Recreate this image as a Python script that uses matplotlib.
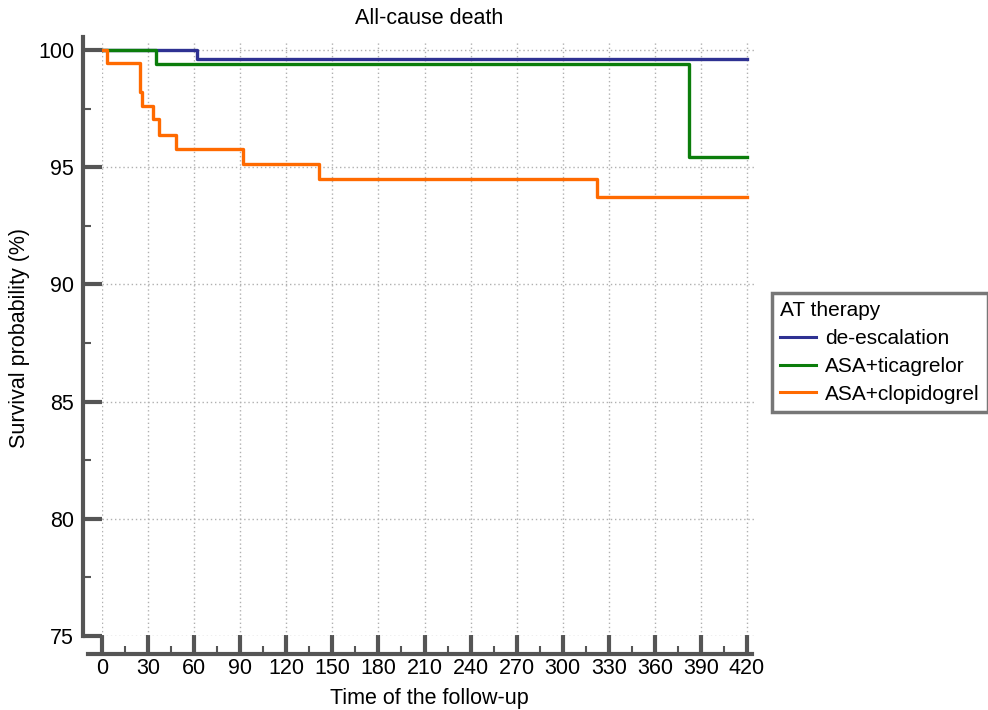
import matplotlib
matplotlib.use("Agg")
import matplotlib.pyplot as plt
from matplotlib.ticker import MultipleLocator

plt.rcParams["font.family"] = ["Liberation Sans", "DejaVu Sans"]

# step curves (time in days, survival in %)
deesc_t = [0, 62, 420]
deesc_s = [100, 99.6, 99.6]

tica_t = [0, 35, 382, 420]
tica_s = [100, 99.39, 95.42, 95.42]

clop_t = [0, 3, 25, 26, 33, 37, 48, 92, 141, 322, 420]
clop_s = [100, 99.44, 98.22, 97.61, 97.04, 96.36, 95.79, 95.12, 94.48, 93.73, 93.73]

labels = ["de-escalation", "ASA+ticagrelor", "ASA+clopidogrel"]
colours = ["#2e3192", "#0b7d0b", "#ff6a00"]

W, H = 988, 710
fig = plt.figure(figsize=(W / 100, H / 100), dpi=100)
# axes box in pixels: x 0 -> 102, y 75 -> 636
px_per_x = 645 / 420
px_per_y = 586 / 25
x_max = 426
y_top = 100.4
left = 102
right = left + x_max * px_per_x
bottom = 636
top = 50 - (y_top - 100) * px_per_y
ax = fig.add_axes([left / W, (H - bottom) / H, (right - left) / W, (bottom - top) / H])

for t, s, c, lab in zip([deesc_t, tica_t, clop_t], [deesc_s, tica_s, clop_s], colours, labels):
    ax.step(t, s, where="post", color=c, lw=2.4, label=lab, zorder=3)

ax.set_xlim(0, x_max)
ax.set_ylim(75, y_top)
ax.xaxis.set_major_locator(MultipleLocator(30))
ax.xaxis.set_minor_locator(MultipleLocator(15))
ax.yaxis.set_major_locator(MultipleLocator(5))
ax.yaxis.set_minor_locator(MultipleLocator(2.5))

ax.grid(True, which="major", color="#b0b0b0", linestyle=(0, (1, 2)), lw=1.0)

spine_col = "#555555"
for side in ["top", "right"]:
    ax.spines[side].set_visible(False)
ax.spines["left"].set_position(("outward", 14))
ax.spines["bottom"].set_position(("outward", 13))
ax.spines["left"].set_bounds(75, 100.55)
ax.spines["bottom"].set_bounds(-9, 423)
for side in ["left", "bottom"]:
    ax.spines[side].set_color(spine_col)
    ax.spines[side].set_linewidth(3)

ax.tick_params(which="major", direction="in", length=14, width=3, color=spine_col,
               labelsize=15.5)
ax.tick_params(which="minor", direction="in", length=6, width=1.5, color=spine_col)
ax.tick_params(axis="y", which="major", pad=6)
ax.tick_params(axis="x", which="major", pad=3)

ax.set_title("All-cause death", fontsize=15.5, pad=12)
ax.set_xlabel("Time of the follow-up", fontsize=15.5, labelpad=6)
ax.set_ylabel("Survival probability (%)", fontsize=15.5, labelpad=6)

leg = fig.legend(loc="upper left", bbox_to_anchor=(772 / W, (H - 293) / H),
                 title="AT therapy", fontsize=15, title_fontsize=15,
                 frameon=True, fancybox=False, handlelength=1.7, handletextpad=0.45,
                 borderpad=0.4, labelspacing=0.42, borderaxespad=0)
leg._legend_box.align = "left"
leg.get_frame().set_edgecolor(spine_col)
leg.get_frame().set_linewidth(2.5)
for line in leg.get_lines():
    line.set_linewidth(2.2)

fig.savefig("out.png", dpi=100)
